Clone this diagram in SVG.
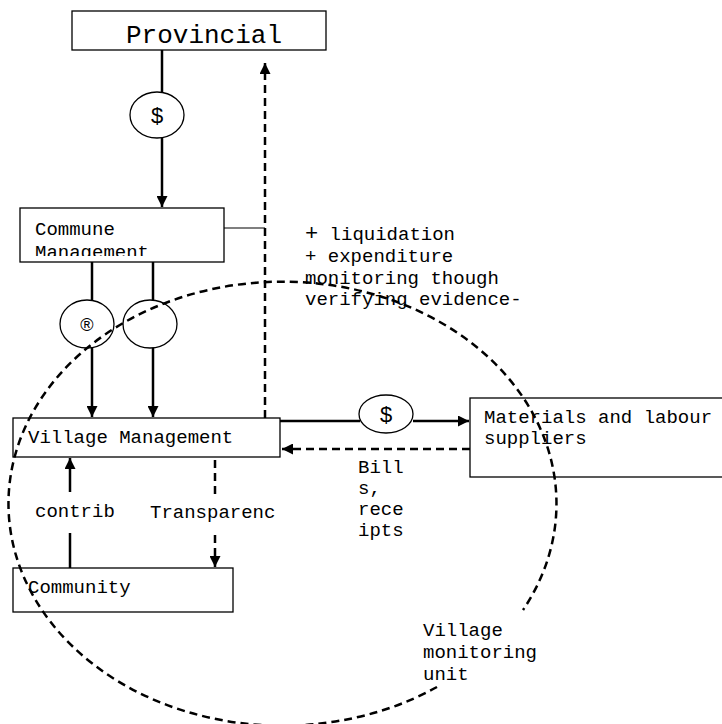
<svg xmlns="http://www.w3.org/2000/svg" width="722" height="724" viewBox="0 0 722 724">
<style>
.box{fill:#fff;stroke:#000;stroke-width:1.3}
.t{font-family:"Liberation Mono","Courier New",monospace;font-size:19px;fill:#000}
.s{font-family:"Liberation Sans",Arial,sans-serif;font-size:22px;fill:#000}
.ln{stroke:#000;stroke-width:2.5;fill:none}
.dl{stroke:#000;stroke-width:2.5;fill:none;stroke-dasharray:8 5}
.cir{fill:#fff;stroke:#000;stroke-width:1.3}
</style>
<defs>
<marker id="ah" viewBox="0 0 10 10" refX="10" refY="5" markerWidth="5" markerHeight="4.4" orient="auto" markerUnits="strokeWidth">
<path d="M0,0 L10,5 L0,10 Z" fill="#000"/>
</marker>
<clipPath id="cc"><rect x="20" y="208" width="204" height="48"/></clipPath>
</defs>
<rect width="722" height="724" fill="#fff"/>
<g id="connectors">
<line class="ln" x1="162" y1="50" x2="162" y2="92"/>
<line class="ln" x1="162" y1="138" x2="162" y2="207" marker-end="url(#ah)"/>
<line class="dl" x1="265" y1="418" x2="265" y2="63" marker-end="url(#ah)"/>
<line stroke="#000" stroke-width="1.2" x1="218" y1="228" x2="265" y2="228"/>
<line class="ln" x1="92" y1="262" x2="92" y2="301"/>
<line class="ln" x1="92" y1="347" x2="92" y2="417" marker-end="url(#ah)"/>
<line class="ln" x1="153" y1="262" x2="153" y2="301"/>
<line class="ln" x1="153" y1="347" x2="153" y2="417" marker-end="url(#ah)"/>
<line class="ln" x1="280" y1="421" x2="360" y2="421"/>
<line class="ln" x1="413" y1="421" x2="469" y2="421" marker-end="url(#ah)"/>
<line class="dl" x1="470" y1="449" x2="282" y2="449" marker-end="url(#ah)"/>
<line class="ln" x1="70" y1="568" x2="70" y2="533"/>
<line class="ln" x1="70" y1="492" x2="70" y2="458" marker-end="url(#ah)"/>
<line class="dl" x1="215" y1="460" x2="215" y2="496"/>
<line class="dl" x1="215" y1="535" x2="215" y2="567" marker-end="url(#ah)"/>
</g>
<g id="provincial">
<rect class="box" x="72" y="11" width="254" height="39"/>
<text class="t" x="126" y="43" style="font-size:26px">Provincial</text>
</g>
<g id="dollar1">
<ellipse class="cir" cx="157" cy="115" rx="27" ry="23"/>
<text class="s" x="157" y="123" text-anchor="middle">$</text>
</g>
<g id="commune">
<rect class="box" x="20" y="208" width="204" height="54"/>
<g clip-path="url(#cc)">
<text class="t" x="35" y="235">Commune</text>
<text class="t" x="35" y="258">Management</text>
</g>
</g>
<g id="note">
<text class="t" x="305" y="240"><tspan style="font-size:22px">+</tspan> liquidation</text>
<text class="t" x="305" y="262">+ expenditure</text>
<text class="t" x="305" y="284">monitoring though</text>
<text class="t" x="305" y="305">verifying evidence-</text>
</g>
<g id="circle-r">
<ellipse class="cir" cx="87" cy="324" rx="27" ry="24"/>
<text class="s" x="87" y="331" text-anchor="middle" style="font-size:18px">®</text>
</g>
<g id="circle-empty">
<ellipse class="cir" cx="150" cy="324" rx="27" ry="24"/>
</g>
<g id="village-management">
<rect class="box" x="13" y="418" width="267" height="39"/>
<text class="t" x="28" y="443">Village Management</text>
</g>
<g id="dollar2">
<ellipse class="cir" cx="386" cy="414" rx="27" ry="19"/>
<text class="s" x="386" y="422" text-anchor="middle">$</text>
</g>
<g id="suppliers">
<rect class="box" x="470" y="398" width="260" height="79"/>
<text class="t" x="484" y="423">Materials and labour</text>
<text class="t" x="484" y="444">suppliers</text>
</g>
<g id="bills">
<text class="t" x="358" y="473">Bill</text>
<text class="t" x="358" y="494">s,</text>
<text class="t" x="358" y="515">rece</text>
<text class="t" x="358" y="536">ipts</text>
</g>
<g id="labels">
<text class="t" x="35" y="517">contrib</text>
<text class="t" x="150" y="518">Transparenc</text>
</g>
<g id="community">
<rect class="box" x="13" y="568" width="220" height="44"/>
<text class="t" x="28" y="593">Community</text>
</g>
<g id="monitoring-unit">
<path class="dl" d="M437,687 A274,222 0 1 1 523,610" stroke-width="2.2" stroke-dasharray="7 5"/>
<text class="t" x="423" y="636">Village</text>
<text class="t" x="423" y="658">monitoring</text>
<text class="t" x="423" y="680">unit</text>
</g>
</svg>
